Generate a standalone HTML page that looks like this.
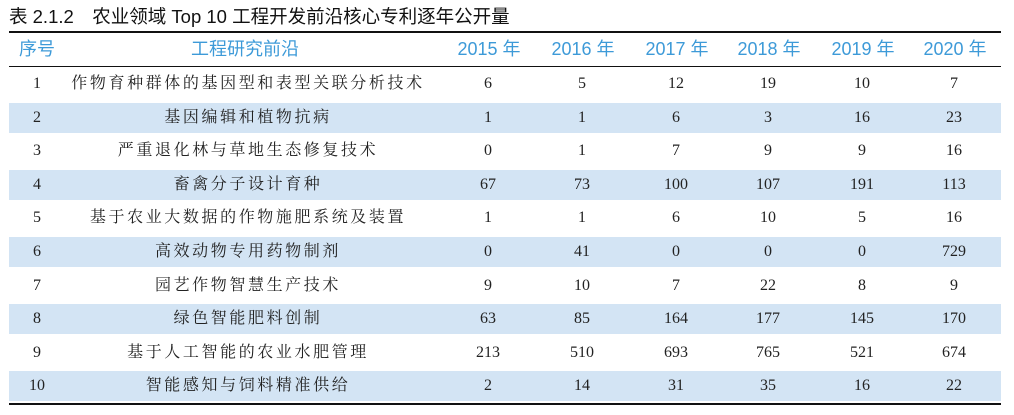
<!DOCTYPE html><html><head><meta charset="utf-8"><style>
body{margin:0;width:1014px;height:415px;background:#fff;position:relative;overflow:hidden;font-family:"Liberation Serif","Noto Serif CJK SC",serif;color:#222}
.t{position:absolute;left:9px;top:3px;font:18.5px "Liberation Sans","Noto Sans CJK SC",sans-serif;color:#111;white-space:nowrap}
.rule{position:absolute;left:9px;width:992px;background:#111}
.row{position:absolute;left:9px;width:992px;height:34px}
.b{background:#d3e4f4;border-top:2px solid #fff;border-bottom:2px solid #fff;box-sizing:border-box}
.c{position:absolute;top:0;line-height:34px;text-align:center;font-size:16px;white-space:nowrap}
.h .c{font:18px "Liberation Sans","Noto Sans CJK SC",sans-serif;color:#3d9ad8;line-height:33px}
.n{letter-spacing:2.6px}
</style></head><body>
<div class="t">表 2.1.2　农业领域 Top 10 工程开发前沿核心专利逐年公开量</div>
<div class="rule" style="top:31px;height:2px"></div>
<div class="row h" style="top:33px;height:33px">
<div class="c" style="left:0;width:56px">序号</div>
<div class="c" style="left:80px;width:312px">工程研究前沿</div>
<div class="c" style="left:432px;width:96px">2015 年</div>
<div class="c" style="left:526px;width:96px">2016 年</div>
<div class="c" style="left:620px;width:96px">2017 年</div>
<div class="c" style="left:712px;width:96px">2018 年</div>
<div class="c" style="left:806px;width:96px">2019 年</div>
<div class="c" style="left:898px;width:96px">2020 年</div>
</div>
<div class="rule" style="top:66px;height:1px"></div>
<div id="rows"></div>
<div class="rule" style="top:403px;height:2px"></div>
<script>
var d=[["1","作物育种群体的基因型和表型关联分析技术",6,5,12,19,10,7],["2","基因编辑和植物抗病",1,1,6,3,16,23],["3","严重退化林与草地生态修复技术",0,1,7,9,9,16],["4","畜禽分子设计育种",67,73,100,107,191,113],["5","基于农业大数据的作物施肥系统及装置",1,1,6,10,5,16],["6","高效动物专用药物制剂",0,41,0,0,0,729],["7","园艺作物智慧生产技术",9,10,7,22,8,9],["8","绿色智能肥料创制",63,85,164,177,145,170],["9","基于人工智能的农业水肥管理",213,510,693,765,521,674],["10","智能感知与饲料精准供给",2,14,31,35,16,22]];
var xs=[432,526,620,712,806,898],h="";
d.forEach(function(r,i){var top=67+i*33.6,o=(i%2?'top:-2px':'');h+='<div class="row'+(i%2?' b':'')+'" style="top:'+top+'px"><div class="c" style="left:0;width:56px;'+o+'">'+r[0]+'</div><div class="c n" style="left:39px;width:400px;'+o+'">'+r[1]+'</div>';for(var j=0;j<6;j++)h+='<div class="c" style="left:'+(xs[j]-1)+'px;width:96px;'+o+'">'+r[j+2]+'</div>';h+='</div>';});
document.getElementById('rows').outerHTML=h;
</script>
</body></html>
